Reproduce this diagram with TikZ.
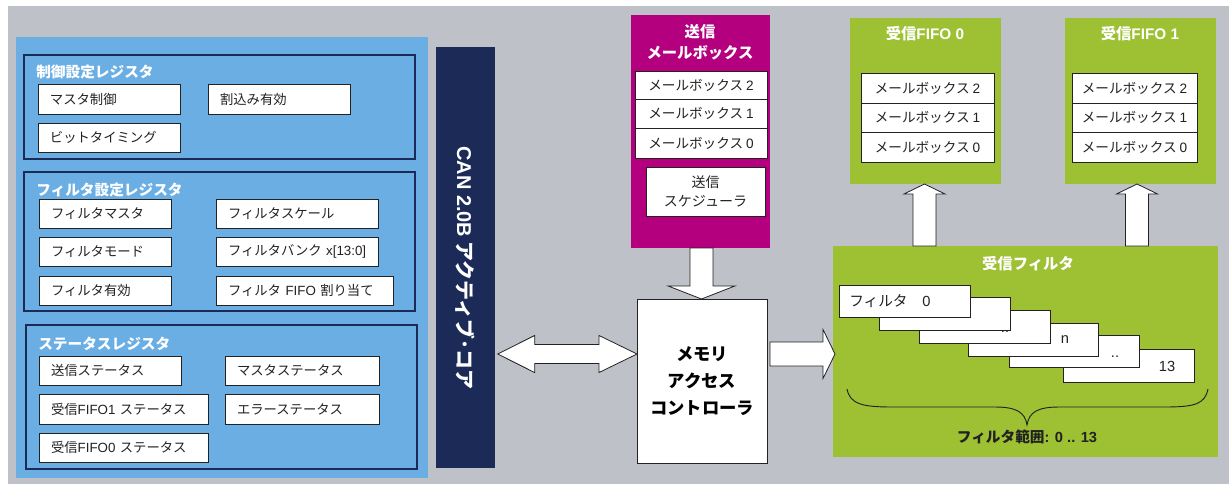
\documentclass[tikz,border=0pt]{standalone}
\usepackage{fontspec}
\setmainfont{Noto Sans CJK JP}
\newfontfamily\lat{Liberation Sans}
\usetikzlibrary{calc}
\definecolor{bgG}{HTML}{BEC1C8}
\definecolor{panelB}{HTML}{6AAEE4}
\definecolor{navy}{HTML}{1B2A56}
\definecolor{mag}{HTML}{B4007F}
\definecolor{grn}{HTML}{9EC033}
\definecolor{ink}{HTML}{222222}
% centred box: style, name, x1, y1, x2, y2, text (pixel coordinates)
\newcommand\pxbox[7]{\pgfmathsetmacro\bw{(#5-#3)*0.75}\pgfmathsetmacro\bh{(#6-#4)*0.75}%
  \node[#1,minimum width=\bw pt,minimum height=\bh pt,anchor=north west] (#2) at (#3,#4) {#7};}
% left aligned box
\newcommand\pxlbox[7]{\pgfmathsetmacro\bw{(#5-#3)*0.75-18}\pgfmathsetmacro\bh{(#6-#4)*0.75}%
  \node[#1,text width=\bw pt,align=left,inner xsep=9pt,minimum height=\bh pt,anchor=north west] (#2) at (#3,#4) {\mbox{#7}};}
\tikzset{
  plain/.style={inner sep=0pt,outer sep=0pt},
  regbox/.style={plain,draw=ink,line width=0.7pt,fill=white,text=ink,font=\fontsize{10}{12}\selectfont},
  mbox/.style={plain,draw=ink,line width=0.7pt,fill=white,text=ink,font=\fontsize{10.2}{12}\selectfont},
  group/.style={plain,draw=navy,line width=2.2pt,fill=panelB},
  gtitle/.style={inner sep=0pt,text=white,font=\fontsize{11}{13}\bfseries\selectfont,anchor=west},
  wtitle/.style={inner sep=0pt,text=white,font=\fontsize{11.5}{16}\bfseries\selectfont,align=center},
  card/.style={plain,draw=ink,line width=0.7pt,fill=white},
  cardtxt/.style={inner sep=0pt,text=ink,font=\fontsize{11}{13}\selectfont},
  blockarrow/.style={draw=ink,line width=0.6pt,fill=white,line join=miter},
}
\begin{document}
\begin{tikzpicture}[x=0.75pt,y=-0.75pt]
\useasboundingbox (0,0) rectangle (1229,486);
\fill[bgG] (8,6) rectangle (1229,484);

% left register panel
\pxbox{plain,fill=panelB}{regpanel}{16}{37}{428}{478}{}
\pxbox{group}{g1}{24}{55}{415}{159}{}
\node[gtitle] (g1t) at (36,72) {制御設定レジスタ};
\pxlbox{regbox}{r11}{38}{84}{180}{114}{マスタ制御}
\pxlbox{regbox}{r12}{208}{84}{350}{114}{割込み有効}
\pxlbox{regbox}{r13}{38}{123}{180}{152}{ビットタイミング}

\pxbox{group}{g2}{24}{172}{415}{311}{}
\node[gtitle] (g2t) at (36,190) {フィルタ設定レジスタ};
\pxlbox{regbox}{r21}{39}{199}{171}{228}{フィルタマスタ}
\pxlbox{regbox}{r22}{216}{199}{378}{228}{フィルタスケール}
\pxlbox{regbox}{r23}{39}{237}{171}{266}{フィルタモード}
\pxlbox{regbox}{r24}{216}{237}{378}{266}{フィルタバンク {\lat x[13:0]}}
\pxlbox{regbox}{r25}{39}{276}{171}{305}{フィルタ有効}
\pxlbox{regbox}{r26}{216}{276}{393}{305}{フィルタ {\lat FIFO} 割り当て}

\pxbox{group}{g3}{26}{325}{417}{469}{}
\node[gtitle] (g3t) at (38,344) {ステータスレジスタ};
\pxlbox{regbox}{r31}{39}{356}{181}{385}{送信ステータス}
\pxlbox{regbox}{r32}{225}{356}{379}{385}{マスタステータス}
\pxlbox{regbox}{r33}{39}{394}{208}{424}{受信{\lat FIFO1} ステータス}
\pxlbox{regbox}{r34}{225}{394}{379}{424}{エラーステータス}
\pxlbox{regbox}{r35}{39}{433}{208}{462}{受信{\lat FIFO0} ステータス}

% CAN core
\pxbox{plain,fill=navy}{core}{436}{47}{495}{468}{}
\node[rotate=-90,inner sep=0pt,text=white,font=\fontsize{15}{18}\bfseries\selectfont] (coret) at (465,268) {{\lat CAN 2.0B} アクティブ･コア};

% transmit mailbox
\pxbox{plain,fill=mag}{txmb}{631}{15}{770}{248}{}
\node[wtitle] (txt) at (700,42) {送信\\メールボックス};
\pxbox{mbox}{tx2}{635}{71}{767}{99}{メールボックス {\lat 2}}
\pxbox{mbox}{tx1}{635}{99}{767}{128}{メールボックス {\lat 1}}
\pxbox{mbox}{tx0}{635}{128}{767}{158}{メールボックス {\lat 0}}
\pxbox{mbox,align=center,font=\fontsize{10.5}{14}\selectfont}{sched}{646}{167}{765}{216}{送信\\スケジューラ}

% memory access controller
\pxbox{plain,draw=ink,line width=0.7pt,fill=white,align=center,text=black,font=\fontsize{13}{20.5}\bfseries\selectfont}{mac}{637}{299}{767}{463}{メモリ\\アクセス\\コントローラ}

% receive FIFOs
\pxbox{plain,fill=grn}{fifo0}{850}{18}{1001}{184}{}
\node[wtitle] (f0t) at (925,34) {受信{\lat FIFO 0}};
\pxbox{mbox}{f02}{861}{73}{994}{103}{メールボックス {\lat 2}}
\pxbox{mbox}{f01}{861}{103}{994}{132}{メールボックス {\lat 1}}
\pxbox{mbox}{f00}{861}{132}{994}{162}{メールボックス {\lat 0}}

\pxbox{plain,fill=grn}{fifo1}{1065}{18}{1216}{184}{}
\node[wtitle] (f1t) at (1140,34) {受信{\lat FIFO 1}};
\pxbox{mbox}{f12}{1072}{73}{1197}{103}{メールボックス {\lat 2}}
\pxbox{mbox}{f11}{1072}{103}{1197}{132}{メールボックス {\lat 1}}
\pxbox{mbox}{f10}{1072}{132}{1197}{162}{メールボックス {\lat 0}}

% receive filter
\pxbox{plain,fill=grn}{filt}{833}{246}{1218}{457}{}
\node[wtitle] (filtt) at (1028,264) {受信フィルタ};
\pxbox{card}{c6}{1063}{349}{1194}{382}{}
\pxbox{card}{c5}{1009}{335}{1139}{367}{}
\pxbox{card}{c4}{968}{323}{1098}{356}{}
\pxbox{card}{c3}{919}{310}{1050}{343}{}
\pxbox{card}{c2}{879}{297}{1010}{330}{}
\pxbox{card}{c1}{839}{285}{970}{317}{}
\node[cardtxt,anchor=west] (c1t) at (849,301) {フィルタ　{\lat 0}};
\node[cardtxt] (c3t) at (1005,332) {\lat ..};
\node[cardtxt] (c4t) at (1065,340) {\lat n};
\node[cardtxt] (c5t) at (1115,357) {\lat ..};
\node[cardtxt] (c6t) at (1167,366) {\lat 13};
\draw[ink,line width=0.7pt] (847,389) .. controls (850,404) and (862,407) .. (892,407) -- (995,407)
  .. controls (1016,407) and (1025,412) .. (1027,425)
  .. controls (1029,412) and (1038,407) .. (1059,407) -- (1165,407)
  .. controls (1195,407) and (1205,404) .. (1208,389);
\node[inner sep=0pt,text=ink,font=\fontsize{11}{13}\bfseries\selectfont] (range) at (1027,437) {フィルタ範囲{\lat : 0 .. 13}};

% block arrows
\coordinate (dy) at (0,354);
\draw[blockarrow] let \p1=(core.east), \p2=(mac.west), \p3=(dy) in
  (\x1+2pt,\y3) -- (\x1+29.75pt,\y3+13.9pt) -- (\x1+29.75pt,\y3+7.1pt) -- (\x2-28.5pt,\y3+7.1pt)
  -- (\x2-28.5pt,\y3+13.9pt) -- (\x2,\y3) -- (\x2-28.5pt,\y3-13.9pt) -- (\x2-28.5pt,\y3-7.1pt)
  -- (\x1+29.75pt,\y3-7.1pt) -- (\x1+29.75pt,\y3-13.9pt) -- cycle;
\draw[blockarrow] let \p1=(txmb.south), \p2=(mac.north) in
  (\x1+0.75pt-8.6pt,\y1) -- (\x1+0.75pt-8.6pt,\y2+9.75pt) -- (\x1+0.75pt-25pt,\y2+9.75pt) -- (\x1+0.75pt,\y2)
  -- (\x1+0.75pt+25pt,\y2+9.75pt) -- (\x1+0.75pt+8.6pt,\y2+9.75pt) -- (\x1+0.75pt+8.6pt,\y1) -- cycle;
\coordinate (dy2) at (0,354);
\draw[blockarrow] let \p1=(mac.east), \p2=(filt.west), \p3=(dy2) in
  (\x1+2.25pt,\y3+9pt) -- (\x2-7.5pt,\y3+9pt) -- (\x2-7.5pt,\y3+18.4pt) -- (\x2+1.5pt,\y3)
  -- (\x2-7.5pt,\y3-18.4pt) -- (\x2-7.5pt,\y3-9pt) -- (\x1+2.25pt,\y3-9pt) -- cycle;
\draw[blockarrow] let \p1=(filt.north), \p2=(fifo0.south) in
  (\x2-0.75pt-8.6pt,\y1) -- (\x2-0.75pt-8.6pt,\y2-7.5pt) -- (\x2-0.75pt-15.4pt,\y2-7.5pt) -- (\x2-0.75pt,\y2)
  -- (\x2-0.75pt+15.4pt,\y2-7.5pt) -- (\x2-0.75pt+8.6pt,\y2-7.5pt) -- (\x2-0.75pt+8.6pt,\y1) -- cycle;
\draw[blockarrow] let \p1=(filt.north), \p2=(fifo1.south) in
  (\x2-2.6pt-8.6pt,\y1) -- (\x2-2.6pt-8.6pt,\y2-7.5pt) -- (\x2-2.6pt-15.4pt,\y2-7.5pt) -- (\x2-2.6pt,\y2)
  -- (\x2-2.6pt+15.4pt,\y2-7.5pt) -- (\x2-2.6pt+8.6pt,\y2-7.5pt) -- (\x2-2.6pt+8.6pt,\y1) -- cycle;
\end{tikzpicture}
\end{document}
